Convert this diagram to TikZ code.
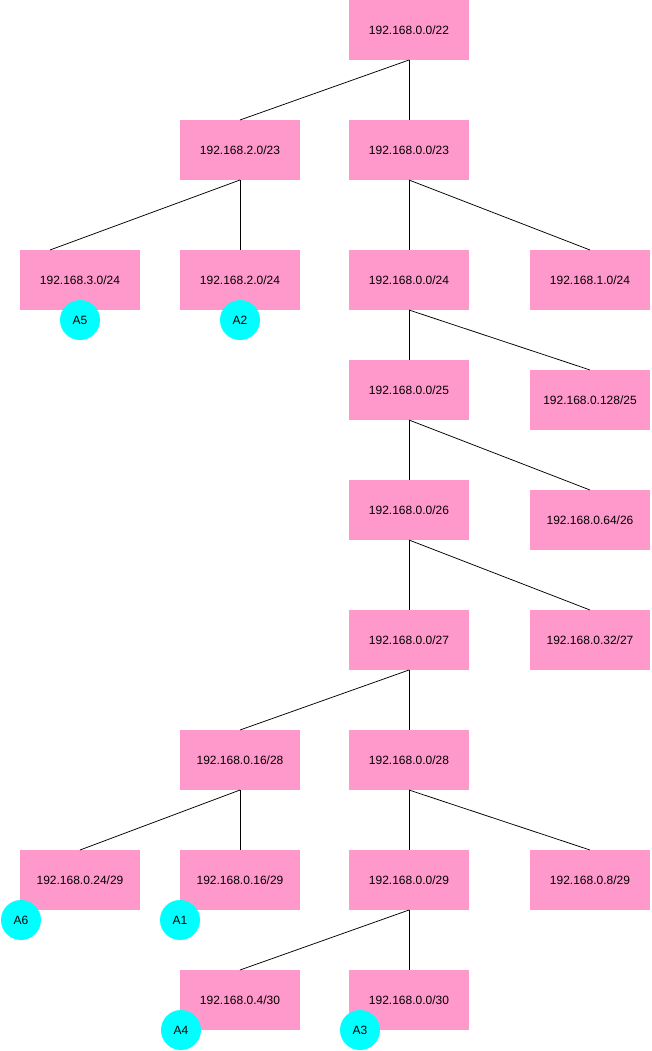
\documentclass[tikz,border=0pt]{standalone}
\usepackage{fontspec}
\setmainfont{Liberation Sans}
\usepackage{xcolor}
\usepackage{tikz}
\definecolor{subnetPink}{HTML}{FF99CC}
\definecolor{hostCyan}{HTML}{00FFFF}
\tikzset{
	subnet/.style = {fill = subnetPink, minimum width = 120pt, minimum height = 60pt, inner sep = 0pt, outer sep = 0pt, font = \fontsize{12}{14}\selectfont},
	host/.style = {circle, fill = hostCyan, minimum size = 40pt, inner sep = 0pt, font = \fontsize{12}{14}\selectfont},
	link/.style = {draw = black, line width = 0.75pt}
}
\newcommand{\ipNode}[4]{
	\node[below right, subnet] (#1) at (#2, #3) {#4};
}
\newcommand{\hostNode}[4]{
	\node[host] (#1) at (#2, #3) {#4};
}

\begin{document}
\begin{tikzpicture}[x = 1pt, y = -1pt]%

		\useasboundingbox[fill = white] (0, 0) rectangle (651, 1051);

		% /22 and /23
		\ipNode{n22}{349}{0}{192.168.0.0/22}
		\ipNode{n2o23}{180}{120}{192.168.2.0/23}
		\ipNode{n0o23}{349}{120}{192.168.0.0/23}

		% /24
		\ipNode{n3o24}{20}{250}{192.168.3.0/24}
		\ipNode{n2o24}{180}{250}{192.168.2.0/24}
		\ipNode{n0o24}{349}{250}{192.168.0.0/24}
		\ipNode{n1o24}{530}{250}{192.168.1.0/24}

		% /25 to /27
		\ipNode{n0o25}{349}{360}{192.168.0.0/25}
		\ipNode{n128o25}{530}{370}{192.168.0.128/25}
		\ipNode{n0o26}{349}{480}{192.168.0.0/26}
		\ipNode{n64o26}{530}{490}{192.168.0.64/26}
		\ipNode{n0o27}{349}{610}{192.168.0.0/27}
		\ipNode{n32o27}{530}{610}{192.168.0.32/27}

		% /28 and /29
		\ipNode{n16o28}{180}{730}{192.168.0.16/28}
		\ipNode{n0o28}{349}{730}{192.168.0.0/28}
		\ipNode{n24o29}{20}{850}{192.168.0.24/29}
		\ipNode{n16o29}{180}{850}{192.168.0.16/29}
		\ipNode{n0o29}{349}{850}{192.168.0.0/29}
		\ipNode{n8o29}{530}{850}{192.168.0.8/29}

		% /30
		\ipNode{n4o30}{180}{970}{192.168.0.4/30}
		\ipNode{n0o30}{349}{970}{192.168.0.0/30}

		% links
		\draw[link] (n22.south) -- (n2o23.north);
		\draw[link] (n22.south) -- (n0o23.north);
		\draw[link] (n2o23.south) -- (n3o24.135);
		\draw[link] (n2o23.south) -- (n2o24.north);
		\draw[link] (n0o23.south) -- (n0o24.north);
		\draw[link] (n0o23.south) -- (n1o24.north);
		\draw[link] (n0o24.south) -- (n0o25.north);
		\draw[link] (n0o24.south) -- (n128o25.north);
		\draw[link] (n0o25.south) -- (n0o26.north);
		\draw[link] (n0o25.south) -- (n64o26.north);
		\draw[link] (n0o26.south) -- (n0o27.north);
		\draw[link] (n0o26.south) -- (n32o27.north);
		\draw[link] (n0o27.south) -- (n16o28.north);
		\draw[link] (n0o27.south) -- (n0o28.north);
		\draw[link] (n16o28.south) -- (n24o29.north);
		\draw[link] (n16o28.south) -- (n16o29.north);
		\draw[link] (n0o28.south) -- (n0o29.north);
		\draw[link] (n0o28.south) -- (n8o29.north);
		\draw[link] (n0o29.south) -- (n4o30.north);
		\draw[link] (n0o29.south) -- (n0o30.north);

		% hosts
		\hostNode{a5}{80}{320}{A5}
		\hostNode{a2}{240}{320}{A2}
		\hostNode{a6}{21}{920}{A6}
		\hostNode{a1}{180}{920}{A1}
		\hostNode{a4}{181}{1030}{A4}
		\hostNode{a3}{360}{1030}{A3}

	\end{tikzpicture}
\end{document}
